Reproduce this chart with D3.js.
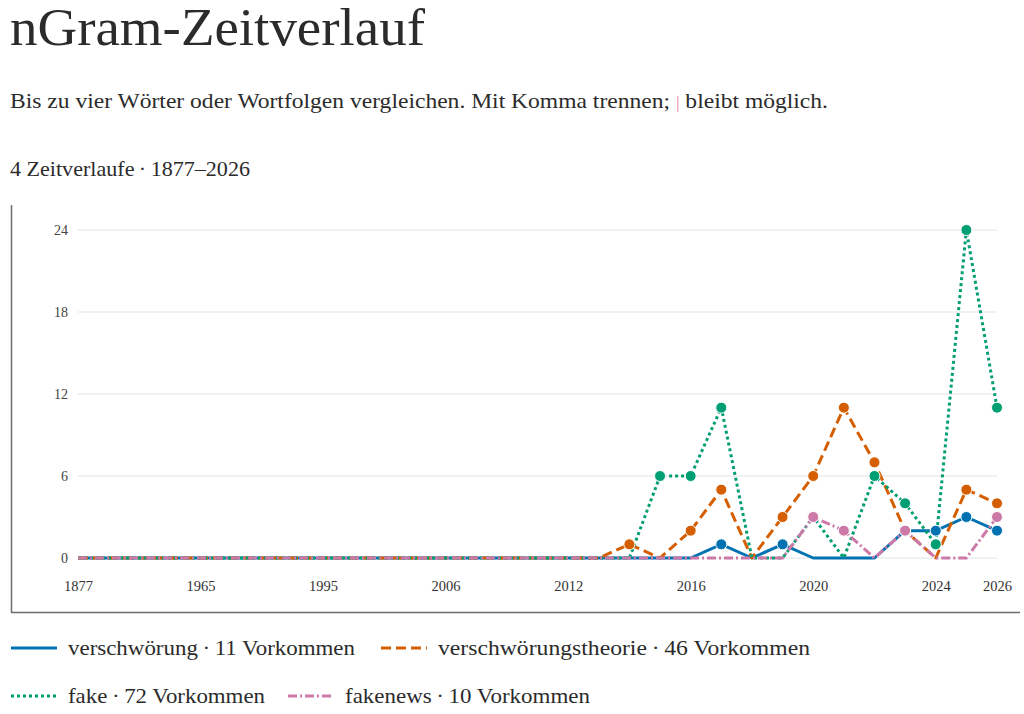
<!DOCTYPE html>
<html><head><meta charset="utf-8">
<script src="https://cdn.jsdelivr.net/npm/d3@7"></script>
<style>
html,body{margin:0;padding:0;background:#fff;}
svg{display:block;font-family:"Liberation Serif","DejaVu Serif",serif;}
</style></head>
<body><svg id="c" width="1024" height="714"></svg>
<script>
const years = ["1877","1900","1925","1950","1965","1975","1985","1990","1995","1998","2001","2004","2006","2008","2009","2010",
  "2012","2013","2014","2015","2016","2017","2018","2019","2020","2021","2022","2023","2024","2025","2026"];
const tickYears = ["1877","1965","1995","2006","2012","2016","2020","2024","2026"];
const yTicks = [0,6,12,18,24];
const zeros16 = [0,0,0,0,0,0,0,0,0,0,0,0,0,0,0,0];
// values 2012..2026
const verschwoerung        = zeros16.concat([0,0,0,0,0,1,0,1,0,0,0,2,2,3,2]);
const verschwoerungstheorie= zeros16.concat([0,0,1,0,2,5,0,3,6,11,7,2,0,5,4]);
const fake                 = zeros16.concat([0,0,0,6,6,11,0,0,3,0,6,4,1,24,11]);
const fakenews             = zeros16.concat([0,0,0,0,0,0,0,0,3,2,0,2,0,0,3]);
const seriesNames = ["verschwörung","verschwörungstheorie","fake","fakenews"];
const seriesTotals = [11,46,72,10];
const seriesValues = [verschwoerung,verschwoerungstheorie,fake,fakenews];
const colors = ["#0072B2","#D55E00","#009E73","#CC79A7"];
const dashes = [null,"10,5","3,3","9,3,2,3"];

const svg = d3.select("#c");
const ink = "#2b2b2b";

function squeeze(sel, w){
  sel.attr("textLength", w).attr("lengthAdjust","spacingAndGlyphs");
}
const title = svg.append("text").attr("x",10).attr("y",45).attr("font-size",52).attr("fill",ink).text("nGram-Zeitverlauf");
squeeze(title, 415);
const sub = svg.append("text").attr("x",10).attr("y",108).attr("font-size",21).attr("fill",ink)
  .attr("textLength",818).attr("lengthAdjust","spacingAndGlyphs");
sub.append("tspan").text("Bis zu vier Wörter oder Wortfolgen vergleichen. Mit Komma trennen; ");
sub.append("tspan").attr("fill","#e37fa6").attr("font-size",16).text("|");
sub.append("tspan").text(" bleibt möglich.");
const cnt = svg.append("text").attr("x",10).attr("y",176).attr("font-size",21).attr("fill",ink).text("4 Zeitverlaufe\u2009·\u20091877–2026");
squeeze(cnt, 240);

// frame
svg.append("line").attr("x1",11.5).attr("x2",11.5).attr("y1",205).attr("y2",612.5).attr("stroke","#6e6e6e").attr("stroke-width",1.5);
svg.append("line").attr("x1",11).attr("x2",1020).attr("y1",612.5).attr("y2",612.5).attr("stroke","#6e6e6e").attr("stroke-width",1.5);

const x = d3.scalePoint().domain(years).range([78,997]).padding(0);
const y = d3.scaleLinear().domain([0,24]).range([558,230]);

const g = svg.append("g");
g.selectAll(".grid").data(yTicks).join("line")
  .attr("x1",78).attr("x2",997).attr("y1",d=>y(d)).attr("y2",d=>y(d))
  .attr("stroke","#ececec").attr("stroke-width",1.5);

const yAxis = svg.append("g").attr("transform","translate(78,0)")
  .call(d3.axisLeft(y).tickValues(yTicks).tickSize(0).tickPadding(10));
yAxis.select(".domain").remove();
yAxis.selectAll("text").attr("font-family","'Liberation Serif',serif").attr("font-size",14).attr("fill","#444");

const xAxis = svg.append("g").attr("transform","translate(0,575)")
  .call(d3.axisBottom(x).tickValues(tickYears).tickSize(0).tickPadding(6));
xAxis.select(".domain").remove();
xAxis.selectAll("text").attr("font-family","'Liberation Serif',serif").attr("font-size",14.5).attr("fill","#333");

const line = d3.line().x((d,i)=>x(years[i])).y(d=>y(d));
seriesValues.forEach((vals,k)=>{
  svg.append("path").datum(vals).attr("d",line).attr("fill","none")
    .attr("stroke",colors[k]).attr("stroke-width",3)
    .attr("stroke-dasharray",dashes[k]).attr("stroke-linejoin","round");
});
seriesValues.forEach((vals,k)=>{
  const pts = vals.map((v,i)=>({v,i})).filter(d=>d.v>0);
  svg.append("g").selectAll("circle").data(pts).join("circle")
    .attr("cx",d=>x(years[d.i])).attr("cy",d=>y(d.v)).attr("r",5.5)
    .attr("fill",colors[k]).attr("stroke","#fff").attr("stroke-width",1);
});

// legend
const legendPos = [[11,648],[381,648],[11,696],[288,696]];
const legendW = [287,372,197,245];
seriesNames.forEach((n,k)=>{
  const [lx,ly] = legendPos[k];
  svg.append("line").attr("x1",lx).attr("x2",lx+46).attr("y1",ly).attr("y2",ly)
    .attr("stroke",colors[k]).attr("stroke-width",3).attr("stroke-dasharray",dashes[k]);
  const t = svg.append("text").attr("x",lx+57).attr("y",ly+7).attr("font-size",22).attr("fill",ink)
    .text(n+"\u2009·\u2009"+seriesTotals[k]+" Vorkommen");
  squeeze(t, legendW[k]);
});
</script></body></html>
